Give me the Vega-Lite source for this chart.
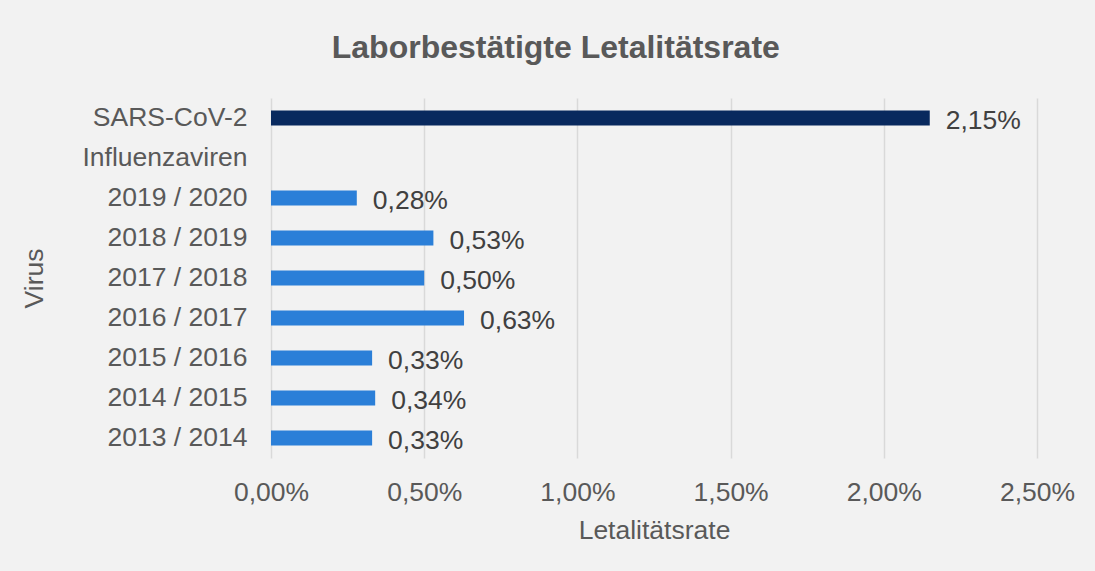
{
  "$schema": "https://vega.github.io/schema/vega-lite/v6.json",
  "autosize": {"type": "none"},
  "width": 766,
  "height": 360,
  "padding": {"left": 271, "top": 98, "right": 58, "bottom": 113},
  "background": "#f2f2f2",
  "title": {
    "text": "Laborbestätigte Letalitätsrate",
    "font": "Liberation Sans",
    "fontSize": 32,
    "fontWeight": "bold",
    "color": "#595959",
    "anchor": "middle",
    "frame": "bounds",
    "offset": 33,
    "dx": 8
  },
  "data": {
    "values": [
      {"virus": "SARS-CoV-2", "gruppe": "SARS-CoV-2", "rate": 0.0215},
      {"virus": "2019 / 2020", "gruppe": "Influenza", "rate": 0.0028},
      {"virus": "2018 / 2019", "gruppe": "Influenza", "rate": 0.0053},
      {"virus": "2017 / 2018", "gruppe": "Influenza", "rate": 0.005},
      {"virus": "2016 / 2017", "gruppe": "Influenza", "rate": 0.0063},
      {"virus": "2015 / 2016", "gruppe": "Influenza", "rate": 0.0033},
      {"virus": "2014 / 2015", "gruppe": "Influenza", "rate": 0.0034},
      {"virus": "2013 / 2014", "gruppe": "Influenza", "rate": 0.0033}
    ]
  },
  "encoding": {
    "y": {
      "field": "virus",
      "type": "nominal",
      "title": "Virus",
      "scale": {
        "domain": ["SARS-CoV-2", "Influenzaviren", "2019 / 2020", "2018 / 2019", "2017 / 2018", "2016 / 2017", "2015 / 2016", "2014 / 2015", "2013 / 2014"],
        "paddingInner": 0.62,
        "paddingOuter": 0.31
      },
      "axis": {
        "domain": false,
        "ticks": false,
        "labelPadding": 24,
        "labelFont": "Liberation Sans",
        "labelFontSize": 26.5,
        "labelColor": "#595959",
        "titleFont": "Liberation Sans",
        "titleFontSize": 26.5,
        "titleFontWeight": "normal",
        "titleColor": "#595959",
        "titlePadding": 34
      }
    },
    "x": {
      "field": "rate",
      "type": "quantitative",
      "title": "Letalitätsrate",
      "scale": {"domain": [0, 0.025], "nice": false},
      "axis": {
        "format": ".2%",
        "values": [0, 0.005, 0.01, 0.015, 0.02, 0.025],
        "domain": false,
        "ticks": false,
        "grid": true,
        "gridColor": "#d9d9d9",
        "gridWidth": 1.5,
        "labelFlush": false,
        "labelPadding": 21,
        "labelFont": "Liberation Sans",
        "labelFontSize": 26.5,
        "labelColor": "#595959",
        "titleFont": "Liberation Sans",
        "titleFontSize": 26.5,
        "titleFontWeight": "normal",
        "titleColor": "#595959",
        "titlePadding": 12
      }
    }
  },
  "layer": [
    {
      "mark": {"type": "bar"},
      "encoding": {
        "color": {
          "field": "gruppe",
          "type": "nominal",
          "scale": {"domain": ["SARS-CoV-2", "Influenza"], "range": ["#08295e", "#2b7fd8"]},
          "legend": null
        }
      }
    },
    {
      "mark": {
        "type": "text",
        "align": "left",
        "baseline": "middle",
        "dx": 16,
        "dy": 3,
        "font": "Liberation Sans",
        "fontSize": 26.5,
        "color": "#404040"
      },
      "encoding": {
        "text": {"field": "rate", "type": "quantitative", "format": ".2%"}
      }
    }
  ],
  "config": {
    "locale": {
      "number": {"decimal": ",", "thousands": ".", "grouping": [3], "currency": ["", " €"]}
    },
    "view": {"stroke": null}
  }
}
